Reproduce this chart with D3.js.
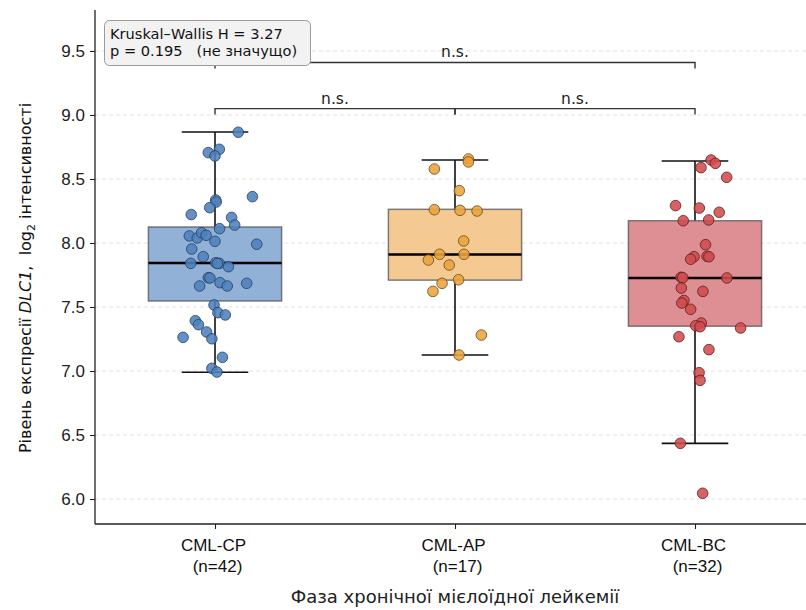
<!DOCTYPE html>
<html>
<head>
<meta charset="utf-8">
<script src="https://cdn.jsdelivr.net/npm/d3@7"></script>
<style>
  body { margin: 0; background: #fff; }
  svg { font-family: "DejaVu Sans", sans-serif; }
</style>
</head>
<body>
<div id="chart"></div>
<script>
const groups = ["CML-CP", "CML-AP", "CML-BC"]
const counts = [42, 17, 32]
const boxFill = ["#91b1d7", "#f4c992", "#dd8f93"]
const dotFill = ["#4f81bd", "#eaa33d", "#d24c4f"]
const dotEdge = ["#24405f", "#6b4a14", "#5e1c1c"]

// box stats: [low whisker, q1, median, q3, high whisker]
const statsCP = [6.99, 7.547, 7.844, 8.125, 8.867]
const statsAP = [7.125, 7.71, 7.91, 8.263, 8.648]
const statsBC = [6.435, 7.35, 7.727, 8.174, 8.64]

const valuesCP = [8.865, 8.706, 8.732, 8.68, 8.362, 8.336, 8.32, 8.276, 8.222, 8.2, 8.14, 8.112, 8.055, 8.039,
  8.08, 8.06, 8.013, 7.99, 7.953, 7.893, 7.841, 7.846, 7.841, 7.815, 7.729, 7.727, 7.664, 7.69, 7.664,
  7.685, 7.516, 7.456, 7.438, 7.393, 7.362, 7.305, 7.263, 7.252, 7.107, 7.021, 6.992, 7.84]
const jitterCP = [0.097, -0.028, 0.018, 0, 0.156, 0.003, 0.005, -0.022, -0.099, 0.069, 0.082, 0.019, -0.107, -0.074,
  -0.056, -0.037, 0, 0.174, -0.097, -0.049, -0.101, 0.003, 0.018, 0.056, -0.028, -0.021, -0.064, 0.021, 0.051,
  0.132, -0.004, 0.012, 0.043, -0.082, -0.069, -0.035, -0.133, -0.013, 0.031, -0.013, 0.008, 0.01]

const valuesAP = [8.656, 8.633, 8.578, 8.409, 8.26, 8.255, 8.25, 8.016, 7.912, 7.912, 7.867, 7.828, 7.713,
  7.685, 7.622, 7.281, 7.125]
const jitterAP = [0.056, 0.056, -0.086, 0.018, -0.086, 0.021, 0.092, 0.036, -0.064, 0.0375, -0.111, -0.024, 0.015,
  -0.054, -0.092, 0.11, 0.017]

const valuesBC = [8.648, 8.622, 8.589, 8.513, 8.292, 8.273, 8.24, 8.174, 8.18, 7.987, 7.893, 7.873, 7.896, 7.893,
  7.732, 7.729, 7.727, 7.648, 7.622, 7.551, 7.531, 7.482, 7.375, 7.354, 7.346, 7.336, 7.268, 7.167, 6.987,
  6.927, 6.435, 6.045]
const jitterBC = [0.067, 0.085, 0.025, 0.132, -0.081, 0.018, 0.101, -0.049, 0.057, 0.044, -0.004, -0.018, 0.05, 0.058,
  -0.058, -0.051, 0.133, -0.057, 0.033, -0.046, -0.055, -0.018, 0.026, 0.003, 0.021, 0.19, -0.067, 0.058, 0.017,
  0.021, -0.061, 0.032]

const yTicks = [6.0, 6.5, 7.0, 7.5, 8.0, 8.5, 9.0, 9.5]

// significance brackets: [from group, to group, label]
const brackets = [[0, 1, "n.s."], [1, 2, "n.s."], [0, 2, "n.s."]]
const bracketLevel = [9.05, 9.05, 9.41]

const statsText = ["Kruskal\u2013Wallis H = 3.27", "p = 0.195   (не значущо)"]

const allStats = [statsCP, statsAP, statsBC]
const allValues = [valuesCP, valuesAP, valuesBC]
const allJitter = [jitterCP, jitterAP, jitterBC]

const width = 806, height = 610
const svg = d3.select("#chart").append("svg")
    .attr("width", width)
    .attr("height", height)

const left = 95, bottom = 524, plotTop = 10
const xScale = d3.scaleLinear().domain([-0.5, 2.5]).range([left, left + 720])
const yScale = d3.scaleLinear().domain([5.805, 9.82]).range([bottom, plotTop])
const boxW = 0.555

// grid
svg.append("g")
    .selectAll("line")
    .data(yTicks)
    .join("line")
    .attr("x1", left).attr("x2", width)
    .attr("y1", d => yScale(d)).attr("y2", d => yScale(d))
    .attr("stroke", "#d9d9d9")
    .attr("stroke-width", 0.8)
    .attr("stroke-dasharray", "4,3")

// boxes
allStats.forEach((s, i) => {
    const g = svg.append("g")
    const cx = xScale(i)
    const half = xScale(boxW / 2) - xScale(0)
    g.append("line")
        .attr("x1", cx).attr("x2", cx)
        .attr("y1", yScale(s[0])).attr("y2", yScale(s[4]))
        .attr("stroke", "#111").attr("stroke-width", 1.6)
    g.append("rect")
        .attr("x", cx - half)
        .attr("y", yScale(s[3]))
        .attr("width", half * 2)
        .attr("height", yScale(s[1]) - yScale(s[3]))
        .attr("fill", boxFill[i])
        .attr("stroke", "#555").attr("stroke-opacity", 0.75)
        .attr("stroke-width", 1.5)
    ;[s[0], s[4]].forEach(v => {
        g.append("line")
            .attr("x1", cx - half / 2).attr("x2", cx + half / 2)
            .attr("y1", yScale(v)).attr("y2", yScale(v))
            .attr("stroke", "#111").attr("stroke-width", 1.6)
    })
    g.append("line")
        .attr("x1", cx - half).attr("x2", cx + half)
        .attr("y1", yScale(s[2])).attr("y2", yScale(s[2]))
        .attr("stroke", "#000").attr("stroke-width", 2.6)
})

// points
allValues.forEach((vals, i) => {
    svg.append("g")
        .selectAll("circle")
        .data(vals)
        .join("circle")
        .attr("cx", (d, k) => xScale(i + allJitter[i][k]))
        .attr("cy", d => yScale(d))
        .attr("r", 5.3)
        .attr("fill", dotFill[i])
        .attr("fill-opacity", 0.88)
        .attr("stroke", dotEdge[i])
        .attr("stroke-width", 0.8)
})

// axes
const yAxis = svg.append("g")
    .attr("transform", "translate(" + left + ",0)")
    .call(d3.axisLeft(yScale).tickValues(yTicks).tickFormat(d3.format(".1f")).tickSize(5).tickPadding(5))
yAxis.select(".domain").attr("d", "M0," + plotTop + "V" + bottom).attr("stroke", "#222").attr("stroke-width", 1.3)
yAxis.selectAll(".tick line").attr("stroke", "#222").attr("stroke-width", 1.1)
yAxis.selectAll("text").attr("font-size", 17).attr("fill", "#222")

const xAxis = svg.append("g")
    .attr("transform", "translate(0," + bottom + ")")
    .call(d3.axisBottom(xScale).tickValues([0, 1, 2]).tickFormat("").tickSize(5))
xAxis.select(".domain").attr("d", "M" + left + ",0H" + width).attr("stroke", "#222").attr("stroke-width", 1.3)
xAxis.selectAll(".tick line").attr("stroke", "#222").attr("stroke-width", 1.1)
xAxis.selectAll(".tick").each(function (d) {
    const t = d3.select(this).append("text")
        .attr("text-anchor", "middle")
        .attr("fill", "#111")
        .attr("font-size", 17)
    t.append("tspan").attr("x", -2).attr("y", 27).text(groups[d])
    t.append("tspan").attr("x", 2).attr("y", 48).text("(n=" + counts[d] + ")")
})

// axis titles
svg.append("text")
    .attr("x", xScale(1))
    .attr("y", 603)
    .attr("text-anchor", "middle")
    .attr("font-size", 18)
    .attr("fill", "#222")
    .text("Фаза хронічної мієлоїдної лейкемії")

const yl = svg.append("text")
    .attr("transform", "translate(31,278) rotate(-90)")
    .attr("text-anchor", "middle")
    .attr("font-size", 16)
    .attr("fill", "#111")
yl.append("tspan").text("Рівень експресії ")
yl.append("tspan").attr("font-style", "italic").text("DLC1")
yl.append("tspan").text(",\u00a0\u00a0log")
yl.append("tspan").attr("font-size", 11).attr("dy", 4).text("2")
yl.append("tspan").attr("dy", -4).text(" інтенсивності")

// brackets
brackets.forEach((b, i) => {
    const x1 = xScale(b[0]), x2 = xScale(b[1])
    const y = yScale(bracketLevel[i])
    const g = svg.append("g")
    g.append("path")
        .attr("d", "M" + x1 + "," + (y + 6) + "V" + y + "H" + x2 + "V" + (y + 6))
        .attr("fill", "none")
        .attr("stroke", "#333")
        .attr("stroke-width", 1.4)
    g.append("text")
        .attr("x", (x1 + x2) / 2)
        .attr("y", y - 5)
        .attr("text-anchor", "middle")
        .attr("font-size", 15.5)
        .attr("fill", "#222")
        .text(b[2])
})

// stats box
const sb = svg.append("g")
sb.append("rect")
    .attr("x", 104.5).attr("y", 20.5)
    .attr("width", 206).attr("height", 45)
    .attr("rx", 5)
    .attr("fill", "#f2f2f2")
    .attr("stroke", "#9a9a9a")
    .attr("stroke-width", 1)
statsText.forEach((s, i) => {
    sb.append("text")
        .attr("x", 110)
        .attr("y", 38.5 + i * 17.5)
        .attr("font-size", 14.6)
        .attr("fill", "#111")
        .style("white-space", "pre")
        .text(s)
})
</script>
</body>
</html>
